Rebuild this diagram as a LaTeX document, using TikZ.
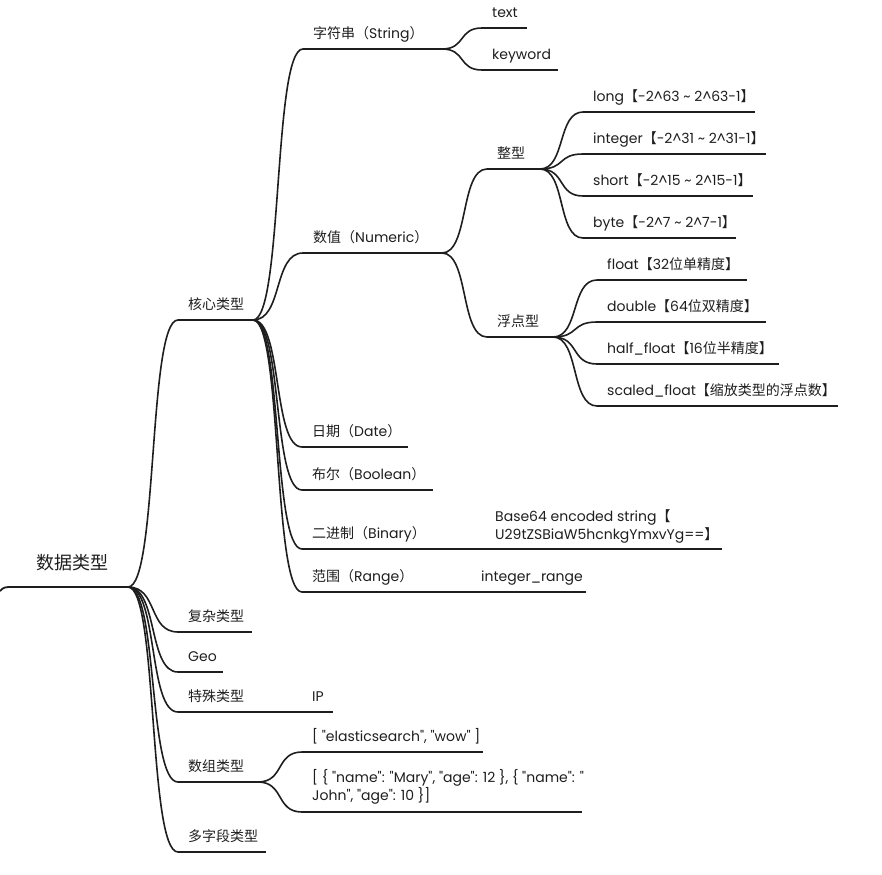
\documentclass[tikz,border=0pt]{standalone}
\usepackage{fontspec}
\setmainfont{Poppins}[Ligatures=TeXOff]
\newfontfamily\cjk{Noto Sans CJK SC}
\usetikzlibrary{calc}
\newcommand\zh[1]{{\cjk #1}}
\definecolor{ink}{HTML}{1E1E1E}
\tikzset{
  topicline/.style={draw=ink, line width=1.8pt},
  conn/.style={draw=ink, line width=1.6pt},
  lbl/.style={anchor=base west, inner sep=0pt, text=ink, font=\fontsize{14}{18}\selectfont},
  rootlbl/.style={lbl, font=\fontsize{18}{22}\selectfont},
  multilbl/.style={lbl, anchor=south west, align=left},
}
\newcommand\topic[5]{%
  \coordinate (#1s) at (#2,#4);
  \coordinate (#1e) at (#3,#4);
  \draw[topicline] (#1s) -- (#1e);
  \node[lbl] (#1) at ({#2+10},{#4-10.5}) {#5};
}
\newcommand\lnk[2]{%
  \path ($(#1e)!0.6!(#2s)$) coordinate (cA) ($(#2s)!0.6!(#1e)$) coordinate (cB);
  \draw[conn] (#1e) .. controls (cA |- #1e) and (cB |- #2s) .. (#2s);
}
\begin{document}
\begin{tikzpicture}[x=1pt,y=-1pt]
\useasboundingbox (0,0) rectangle (882,874);
% root
\coordinate (rootin) at (0,591);
\coordinate (roots) at (14,587);
\coordinate (roote) at (128,587);
\draw[topicline] (rootin) .. controls (4,587) .. (roots) -- (roote);
\node[rootlbl] (root) at (36,569.5) {\zh{数据类型}};
% level 1
\topic{core}{178}{253}{320}{\zh{核心类型}}
\topic{complex}{178}{252}{632}{\zh{复杂类型}}
\topic{geo}{178}{223}{672}{Geo}
\topic{special}{178}{253}{712}{\zh{特殊类型}}
\topic{array}{178}{258}{782}{\zh{数组类型}}
\topic{multi}{178}{266}{852}{\zh{多字段类型}}
% special / array children
\topic{ip}{302}{333}{712}{IP}
\topic{arra}{302}{483}{752}{[ "elasticsearch", "wow" ]}
\coordinate (arrbs) at (302,812);
\coordinate (arrbe) at (582,812);
\draw[topicline] (arrbs) -- (arrbe);
\node[multilbl] (arrb) at (312,804) {[ \{ "name": "Mary", "age": 12 \}, \{ "name": "\\John", "age": 10 \}]};
% core children
\topic{str}{303}{442}{49}{\zh{字符串（}String\zh{）}}
\topic{num}{303}{442}{253}{\zh{数值（}Numeric\zh{）}}
\topic{date}{302}{408}{447}{\zh{日期（}Date\zh{）}}
\topic{bool}{302}{433}{490}{\zh{布尔（}Boolean\zh{）}}
\topic{bin}{302}{428}{549}{\zh{二进制（}Binary\zh{）}}
\topic{range}{302}{415}{592}{\zh{范围（}Range\zh{）}}
% string children
\topic{txt}{482}{527}{28}{text}
\topic{kw}{482}{558}{70}{keyword}
% numeric children
\topic{int}{487}{540}{169}{\zh{整型}}
\topic{flt}{487}{553}{337}{\zh{浮点型}}
\topic{long}{583}{755}{112}{long\zh{【}-2\textasciicircum63 \textasciitilde{} 2\textasciicircum63-1\zh{】}}
\topic{integer}{583}{766}{154}{integer\zh{【}-2\textasciicircum31 \textasciitilde{} 2\textasciicircum31-1\zh{】}}
\topic{short}{583}{753}{196}{short\zh{【}-2\textasciicircum15 \textasciitilde{} 2\textasciicircum15-1\zh{】}}
\topic{byte}{583}{736}{238}{byte\zh{【}-2\textasciicircum7 \textasciitilde{} 2\textasciicircum7-1\zh{】}}
\topic{float}{597}{747}{280}{float\zh{【}32\zh{位单精度】}}
\topic{double}{597}{766}{322}{double\zh{【}64\zh{位双精度】}}
\topic{half}{597}{779}{364}{half\_float\zh{【}16\zh{位半精度】}}
\topic{scaled}{597}{838}{406}{scaled\_float\zh{【缩放类型的浮点数】}}
% binary / range children
\coordinate (b64s) at (485,549);
\coordinate (b64e) at (722,549);
\draw[topicline] (b64s) -- (b64e);
\node[multilbl] (b64) at (495,543) {Base64 encoded string\zh{【}\\U29tZSBiaW5hcnkgYmxvYg==\zh{】}};
\topic{irange}{471}{586}{592}{integer\_range}
% connectors
\lnk{root}{core}\lnk{root}{complex}\lnk{root}{geo}\lnk{root}{special}\lnk{root}{array}\lnk{root}{multi}
\lnk{special}{ip}\lnk{array}{arra}\lnk{array}{arrb}
\lnk{core}{str}\lnk{core}{num}\lnk{core}{date}\lnk{core}{bool}\lnk{core}{bin}\lnk{core}{range}
\lnk{str}{txt}\lnk{str}{kw}
\lnk{num}{int}\lnk{num}{flt}
\lnk{int}{long}\lnk{int}{integer}\lnk{int}{short}\lnk{int}{byte}
\lnk{flt}{float}\lnk{flt}{double}\lnk{flt}{half}\lnk{flt}{scaled}
\lnk{bin}{b64}\lnk{range}{irange}
\end{tikzpicture}
\end{document}
